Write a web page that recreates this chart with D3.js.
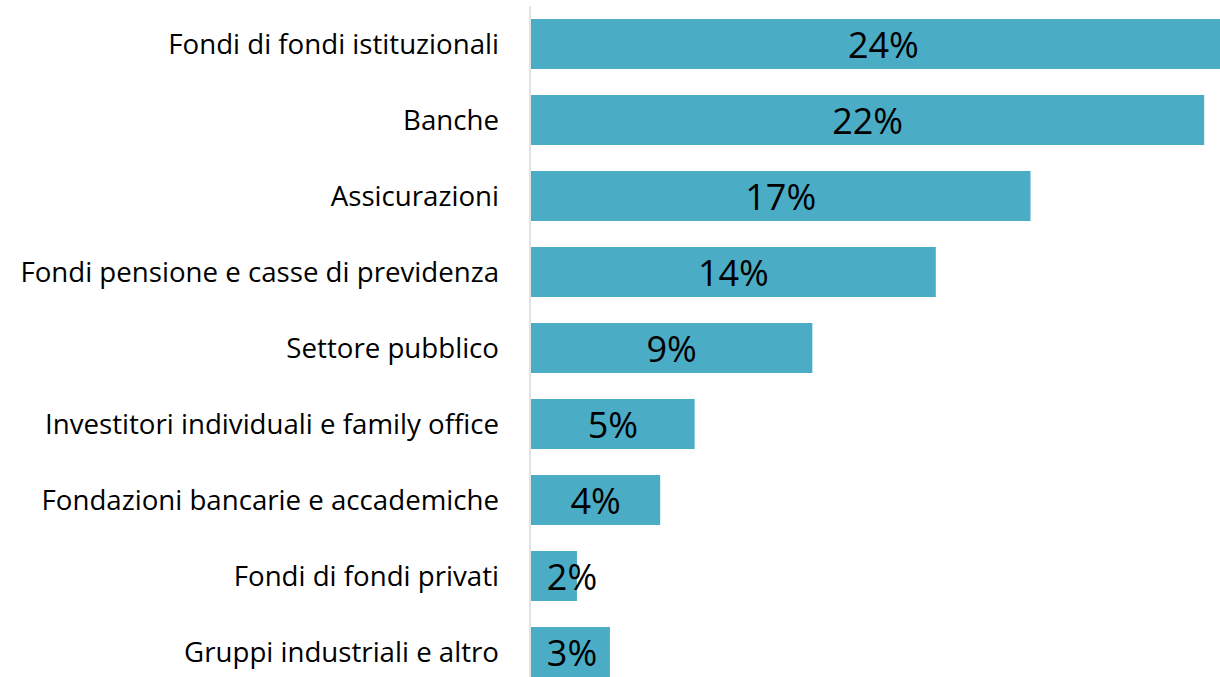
<!DOCTYPE html>
<html><head><meta charset="utf-8">
<script src="https://cdn.jsdelivr.net/npm/d3@7"></script>
<style>html,body{margin:0;padding:0;background:#fff;overflow:hidden;}svg{display:block;}text{font-variant-ligatures:none;}</style>
</head><body>
<svg id="c" width="1220" height="677"></svg>
<script>
const categories = [
  "Fondi di fondi istituzionali",
  "Banche",
  "Assicurazioni",
  "Fondi pensione e casse di previdenza",
  "Settore pubblico",
  "Investitori individuali e family office",
  "Fondazioni bancarie e accademiche",
  "Fondi di fondi privati",
  "Gruppi industriali e altro"
];
// bar lengths
const values = [24.55, 23.45, 17.4, 14.1, 9.8, 5.7, 4.5, 1.6, 2.75];
// data labels as printed
const valueLabels = ["24%", "22%", "17%", "14%", "9%", "5%", "4%", "2%", "3%"];

const svg = d3.select("#c");
const x = d3.scaleLinear().domain([0, 24]).range([531, 1220]);
const y = d3.scaleBand().domain(categories).range([6, 690]).paddingInner(0.342).paddingOuter(0.171);

const font = "'Open Sans', 'Noto Sans', sans-serif";

svg.selectAll("rect.bar").data(categories).join("rect")
  .attr("class", "bar")
  .attr("x", x(0))
  .attr("y", d => y(d))
  .attr("width", (d, i) => x(values[i]) - x(0))
  .attr("height", y.bandwidth())
  .attr("fill", "#4BACC6");

svg.append("line")
  .attr("x1", 530).attr("x2", 530).attr("y1", 6).attr("y2", 677)
  .attr("stroke", "#d9d9d9").attr("stroke-width", 1.5);

const cats = svg.selectAll("text.cat").data(categories).join("text")
  .attr("class", "cat")
  .attr("x", 499)
  .attr("y", d => y(d) + y.bandwidth() / 2)
  .attr("dy", "0.36em")
  .attr("text-anchor", "end")
  .attr("font-family", font)
  .attr("font-size", 23)
  .attr("fill", "#000")
  .text(d => d);
// fit the longest label to the reference width
const maxW = d3.max(cats.nodes(), n => n.getComputedTextLength());
const fs = 23 * 479 / maxW;
cats.attr("font-size", fs);

svg.selectAll("text.val").data(categories).join("text")
  .attr("class", "val")
  .attr("x", (d, i) => Math.max((x(0) + x(values[i])) / 2, x(0) + 41))
  .attr("y", d => y(d) + y.bandwidth() / 2)
  .attr("dy", "0.38em")
  .attr("text-anchor", "middle")
  .attr("font-family", font)
  .attr("font-size", 36)
  .attr("fill", "#000")
  .text((d, i) => valueLabels[i]);
</script>
</body></html>
